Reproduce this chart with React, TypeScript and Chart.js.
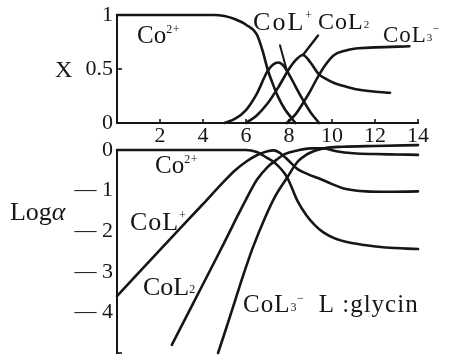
import React, { useEffect, useRef } from 'react';
import { Chart, registerables } from 'chart.js';

Chart.register(...registerables);

const SERIF = '"Liberation Serif", "Times New Roman", serif';
const INK = '#161616';

// Upper panel: mole fraction X of each cobalt species against pH
const upCoPH = [0, 4.5, 5.0, 5.5, 6.0, 6.5, 6.8, 7.0, 7.25, 7.5, 7.8, 8.1, 8.3];
const upCoX = [1, 1, 0.99, 0.96, 0.91, 0.82, 0.65, 0.5, 0.36, 0.24, 0.13, 0.05, 0];
const upCoL1PH = [5.0, 5.5, 6.0, 6.5, 7.0, 7.25, 7.5, 7.75, 8.0, 8.3, 8.6, 9.0, 9.4];
const upCoL1X = [0, 0.04, 0.12, 0.27, 0.48, 0.54, 0.56, 0.53, 0.45, 0.34, 0.23, 0.1, 0];
const upCoL2PH = [6.0, 6.5, 7.0, 7.5, 8.0, 8.3, 8.65, 9.0, 9.35, 9.7, 10.1, 10.6, 11.2, 12.0, 12.7];
const upCoL2X = [0, 0.07, 0.18, 0.33, 0.5, 0.58, 0.63, 0.56, 0.46, 0.41, 0.37, 0.34, 0.31, 0.29, 0.28];
const upCoL3PH = [7.9, 8.3, 8.7, 9.0, 9.35, 9.7, 10.1, 10.6, 11.1, 12.0, 13.6];
const upCoL3X = [0, 0.08, 0.2, 0.3, 0.43, 0.54, 0.63, 0.67, 0.69, 0.7, 0.71];
// pointer strokes from the CoL+ and CoL2 names down to their curves
const leadCoL1PH = [7.58, 7.92];
const leadCoL1X = [0.72, 0.47];
const leadCoL2PH = [8.65, 9.35];
const leadCoL2X = [0.63, 0.81];

// Lower panel: log alpha of each species against pH
const lowCoPH = [0, 6.0, 6.5, 6.75, 7.0, 7.35, 7.9, 8.4, 8.8, 9.2, 9.6, 10.1, 10.8, 11.5, 12.5, 14.0];
const lowCoLog = [0, 0, -0.05, -0.12, -0.2, -0.32, -0.66, -1.26, -1.6, -1.85, -2.03, -2.17, -2.28, -2.34, -2.4, -2.44];
const lowCoL1PH = [0, 2, 4, 5, 5.5, 6, 6.5, 7.0, 7.3, 7.6, 8.0, 8.4, 8.9, 9.35, 10, 10.5, 11, 11.6, 12.5, 14];
const lowCoL1Log = [-3.6, -2.46, -1.33, -0.76, -0.5, -0.29, -0.13, -0.03, -0.01, -0.08, -0.27, -0.47, -0.6, -0.69, -0.84, -0.94, -0.99, -1.02, -1.03, -1.02];
const lowCoL2PH = [2.55, 3.5, 4.5, 5.0, 5.6, 6.0, 6.5, 7.0, 7.4, 7.8, 8.4, 9.0, 9.6, 10.2, 11, 12, 13, 14];
const lowCoL2Log = [-4.8, -3.82, -2.79, -2.27, -1.63, -1.22, -0.74, -0.42, -0.25, -0.1, -0.01, 0.04, 0.04, -0.03, -0.08, -0.1, -0.11, -0.12];
const lowCoL3PH = [4.7, 5.0, 5.5, 5.8, 6.3, 6.9, 7.4, 7.9, 8.4, 8.8, 9.2, 9.7, 10.5, 12, 14];
const lowCoL3Log = [-5.0, -4.52, -3.7, -3.2, -2.43, -1.65, -1.1, -0.69, -0.29, -0.12, -0.02, 0.05, 0.08, 0.1, 0.12];

// Axis ticks
const pHTicks = [2, 4, 6, 8, 10, 12, 14];
const xTicks = [0, 0.5, 1];
const logTicks = [0, -1, -2, -3, -4];

type Kind = 'n' | 'i' | 'sup' | 'sub';
type Part = [string, Kind];
interface TextLabel {
  x: number;
  y: number;
  size: number;
  gap?: number;
  parts: Part[];
}

const upperLabels: TextLabel[] = [
  { x: -2.88, y: 0.43, size: 24, parts: [['X', 'n']] },
  { x: 0.93, y: 0.74, size: 25, parts: [['Co', 'n'], ['2+', 'sup']] },
  { x: 6.33, y: 0.86, size: 26, gap: 2, parts: [['CoL', 'n'], ['+', 'sup']] },
  { x: 9.35, y: 0.87, size: 24, gap: 1, parts: [['CoL', 'n'], ['2', 'sub']] },
  { x: 12.37, y: 0.75, size: 23, gap: 1, parts: [['CoL', 'n'], ['3', 'sub'], ['−', 'sup']] },
];

const lowerLabels: TextLabel[] = [
  { x: -4.98, y: -1.72, size: 26, parts: [['Log', 'n'], ['α', 'i']] },
  { x: 1.77, y: -0.57, size: 25, parts: [['Co', 'n'], ['2+', 'sup']] },
  { x: 0.6, y: -1.97, size: 26, gap: 1, parts: [['CoL', 'n'], ['+', 'sup']] },
  { x: 1.21, y: -3.57, size: 26, parts: [['CoL', 'n'], ['2', 'sub']] },
  { x: 5.86, y: -4.0, size: 25, gap: 1, parts: [['CoL', 'n'], ['3', 'sub'], ['−', 'sup'], ['  L :glycin', 'n']] },
];

const W = 449;
const UP_H = 150;
const LOW_TOP = 140;
const LOW_H = 220;
const AXIS_LEFT = 117;
const RIGHT_PAD = 31;

function drawRich(ctx: CanvasRenderingContext2D, px: number, py: number, lab: TextLabel) {
  let cx = px;
  for (const [t, k] of lab.parts) {
    const small = k === 'sup' || k === 'sub';
    const fs = small ? Math.round(lab.size * 0.46) : lab.size;
    ctx.font = `${k === 'i' ? 'italic ' : ''}${fs}px ${SERIF}`;
    const dy = k === 'sup' ? -lab.size * 0.42 : k === 'sub' ? -lab.size * 0.06 : 0;
    const gap = small ? 0.5 : lab.gap ?? 0;
    for (const ch of t) {
      ctx.fillText(ch, cx, py + dy);
      cx += ctx.measureText(ch).width + gap;
    }
  }
}

function tick(ctx: CanvasRenderingContext2D, x1: number, y1: number, x2: number, y2: number) {
  ctx.beginPath();
  ctx.moveTo(x1, y1);
  ctx.lineTo(x2, y2);
  ctx.stroke();
}

function panelText(labels: TextLabel[], marks: (chart: any) => void) {
  return {
    id: 'panelText',
    afterDraw(chart: any) {
      const { ctx, scales } = chart;
      ctx.save();
      ctx.fillStyle = INK;
      ctx.strokeStyle = INK;
      ctx.lineWidth = 1.6;
      ctx.textAlign = 'left';
      ctx.textBaseline = 'alphabetic';
      for (const lab of labels) {
        drawRich(ctx, scales.x.getPixelForValue(lab.x), scales.y.getPixelForValue(lab.y), lab);
      }
      marks(chart);
      ctx.restore();
    },
  };
}

function curve(xs: number[], ys: number[], width = 2.6) {
  return {
    data: xs.map((x, i) => ({ x, y: ys[i] })),
    borderColor: INK,
    borderWidth: width,
    pointRadius: 0,
    fill: false,
    clip: false as const,
    cubicInterpolationMode: 'monotone' as const,
    borderCapStyle: 'round' as const,
    borderJoinStyle: 'round' as const,
  };
}

// keep the plot frame where the layout padding puts it (no extra room for tick-label overhang)
function noOverhang(s: any) {
  s.paddingTop = 0;
  s.paddingBottom = 0;
  s.paddingLeft = 0;
  s.paddingRight = 0;
}

const tickFont = { family: SERIF, size: 22 };

export default function App() {
  const upRef = useRef<HTMLCanvasElement>(null);
  const lowRef = useRef<HTMLCanvasElement>(null);

  useEffect(() => {
    const upper = new Chart(upRef.current!, {
      type: 'line',
      data: {
        datasets: [
          curve(upCoPH, upCoX),
          curve(upCoL1PH, upCoL1X),
          curve(upCoL2PH, upCoL2X),
          curve(upCoL3PH, upCoL3X),
          curve(leadCoL1PH, leadCoL1X, 2),
          curve(leadCoL2PH, leadCoL2X, 2.4),
        ],
      },
      options: {
        responsive: false,
        animation: false,
        devicePixelRatio: 1,
        layout: { padding: { left: 0, right: RIGHT_PAD, top: 15, bottom: 0 } },
        plugins: { legend: { display: false }, tooltip: { enabled: false } },
        scales: {
          x: {
            type: 'linear',
            min: 0,
            max: 14,
            afterBuildTicks: (s: any) => {
              s.ticks = pHTicks.map((v) => ({ value: v }));
            },
            afterFit: (s: any) => {
              s.height = 27;
              noOverhang(s);
            },
            ticks: { font: tickFont, color: INK, padding: 0, maxRotation: 0, autoSkip: false },
            grid: { display: false, drawTicks: false },
            border: { display: true, color: INK, width: 2 },
          },
          y: {
            min: 0,
            max: 1,
            afterBuildTicks: (s: any) => {
              s.ticks = xTicks.map((v) => ({ value: v }));
            },
            afterFit: (s: any) => {
              s.width = AXIS_LEFT;
              noOverhang(s);
            },
            ticks: {
              font: tickFont,
              color: INK,
              padding: 4,
              callback: (v: any) => (v === 0.5 ? '0.5' : String(v)),
            },
            grid: { display: false, drawTicks: false },
            border: { display: true, color: INK, width: 2 },
          },
        },
      },
      plugins: [
        panelText(upperLabels, (chart) => {
          const { ctx, chartArea: a, scales } = chart;
          for (const v of pHTicks) {
            const px = scales.x.getPixelForValue(v);
            tick(ctx, px, a.bottom, px, a.bottom - 4);
          }
          const py = scales.y.getPixelForValue(0.5);
          tick(ctx, a.left, py, a.left + 5, py);
        }),
      ],
    } as any);

    const lower = new Chart(lowRef.current!, {
      type: 'line',
      data: {
        datasets: [
          curve(lowCoPH, lowCoLog),
          curve(lowCoL1PH, lowCoL1Log),
          curve(lowCoL2PH, lowCoL2Log),
          curve(lowCoL3PH, lowCoL3Log),
        ],
      },
      options: {
        responsive: false,
        animation: false,
        devicePixelRatio: 1,
        layout: { padding: { left: 0, right: RIGHT_PAD, top: 10, bottom: 7 } },
        plugins: { legend: { display: false }, tooltip: { enabled: false } },
        scales: {
          x: { type: 'linear', min: 0, max: 14, display: false },
          y: {
            min: -5,
            max: 0,
            afterBuildTicks: (s: any) => {
              s.ticks = logTicks.map((v) => ({ value: v }));
            },
            afterFit: (s: any) => {
              s.width = AXIS_LEFT;
              noOverhang(s);
            },
            ticks: {
              font: tickFont,
              color: INK,
              padding: 4,
              callback: (v: any) => (v === 0 ? '0' : '— ' + Math.abs(v)),
            },
            grid: { display: false, drawTicks: false },
            border: { display: true, color: INK, width: 2 },
          },
        },
      },
      plugins: [
        panelText(lowerLabels, (chart) => {
          const { ctx, chartArea: a } = chart;
          tick(ctx, a.left, a.bottom, a.left + 5, a.bottom);
        }),
      ],
    } as any);

    return () => {
      upper.destroy();
      lower.destroy();
    };
  }, []);

  return (
    <div style={{ position: 'absolute', left: 0, top: 0, width: W, height: 360, background: '#fff' }}>
      <canvas
        ref={upRef}
        width={W}
        height={UP_H}
        style={{ position: 'absolute', left: 0, top: 0, display: 'block' }}
      />
      <canvas
        ref={lowRef}
        width={W}
        height={LOW_H}
        style={{ position: 'absolute', left: 0, top: LOW_TOP, display: 'block' }}
      />
    </div>
  );
}
